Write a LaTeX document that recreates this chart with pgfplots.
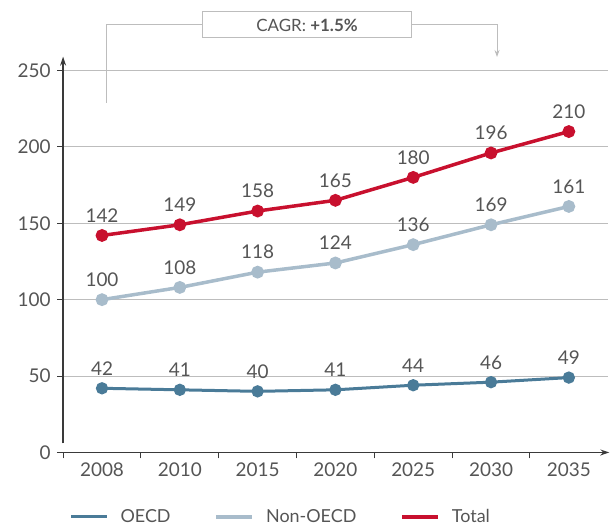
\documentclass[border=0pt]{standalone}
\usepackage{fontspec}
\setmainfont{Lato}
\usepackage{pgfplots}
\pgfplotsset{compat=1.18}
\usetikzlibrary{arrows.meta}
\definecolor{oecd}{HTML}{4A7B98}
\definecolor{nonoecd}{HTML}{A8BCCB}
\definecolor{total}{HTML}{C8102E}
\definecolor{txt}{HTML}{555555}
\definecolor{gridc}{HTML}{BDBDBD}
\definecolor{axc}{HTML}{3A3A3A}
\begin{document}
\begin{tikzpicture}
\begin{axis}[
  x=77.8bp, y=1.528bp,
  xmin=-0.5, xmax=6.5, ymin=0, ymax=258,
  axis line style={draw=none},
  clip=false,
  /pgf/number format/assume math mode=true,
  major tick length=6bp,
  tick align=outside,
  tick style={draw=axc, line width=1bp},
  xtick={-0.5,0.5,1.5,2.5,3.5,4.5,5.5},
  xticklabels={2008,2010,2015,2020,2025,2030,2035},
  xtick pos=bottom,
  x tick label style={font=\fontsize{19}{22}\selectfont, text=txt, xshift=38.9bp, yshift=-1bp},
  ytick={0,50,100,150,200,250},
  yticklabels={{0\hspace{21bp}},50,100,150,200,250},
  ytick pos=left,
  ymajorgrids,
  grid style={gridc, line width=0.8bp},
  y tick label style={font=\fontsize{19}{22}\selectfont, text=txt, xshift=-3bp},
  legend columns=3,
  legend style={draw=none, fill=none, at={(0.006,-0.1636)}, anchor=west,
    font=\fontsize{18}{21}\selectfont, text=txt,
    /tikz/every odd column/.append style={column sep=10bp},
    /tikz/every even column/.append style={column sep=42bp}},
  legend image code/.code={\draw[#1, mark=none] (0bp,0bp) -- (36bp,0bp);},
  every node near coord/.append style={font=\fontsize{19}{22}\selectfont, text=txt, anchor=south, yshift=8bp},
]
\addplot[oecd, line width=3bp, mark=*, mark size=4.6bp, mark options={solid},
  nodes near coords, point meta=explicit symbolic]
  coordinates {(0,42)[42] (1,41)[41] (2,40)[40] (3,41)[41] (4,44)[44] (5,46)[46] (6,49)[49]};
\addlegendentry{OECD}
\addplot[nonoecd, line width=3.5bp, mark=*, mark size=4.6bp, mark options={solid},
  nodes near coords, point meta=explicit symbolic]
  coordinates {(0,100)[100] (1,108)[108] (2,118)[118] (3,124)[124] (4,136)[136] (5,149)[169] (6,161)[161]};
\addlegendentry{Non-OECD\hspace{20bp}}
\addplot[total, line width=3.5bp, mark=*, mark size=4.6bp, mark options={solid},
  nodes near coords, point meta=explicit symbolic]
  coordinates {(0,142)[142] (1,149)[149] (2,158)[158] (3,165)[165] (4,180)[180] (5,196)[196] (6,210)[210]};
\addlegendentry{Total}
% axes
\draw[axc, line width=1.2bp, -{Stealth[length=9bp,width=6bp]}] (axis cs:-0.5,6) -- (axis cs:-0.5,259);
\draw[axc, line width=1.2bp, -{Stealth[length=9bp,width=6bp]}] (axis cs:-0.58,0) -- (axis cs:6.52,0);
% CAGR bracket
\draw[gridc, line width=0.9bp] (axis cs:0.051,228.7) -- (axis cs:0.051,280.4) -- (axis cs:1.298,280.4);
\draw[gridc, line width=0.9bp, -{Stealth[length=7bp,width=5bp]}] (axis cs:3.985,280.4) -- (axis cs:5.077,280.4) -- (axis cs:5.077,258.8);
\node[draw=gridc, line width=0.9bp, fill=white, minimum width=209bp, minimum height=26bp, inner sep=0pt,
  font=\fontsize{17}{20}\selectfont, text=txt] at (axis cs:2.635,279.8) {CAGR: \textbf{+1.5\%}};
% page frame
\path (axis cs:-1.311,296.1) rectangle (axis cs:6.542,-48.8);
\end{axis}
\end{tikzpicture}
\end{document}
